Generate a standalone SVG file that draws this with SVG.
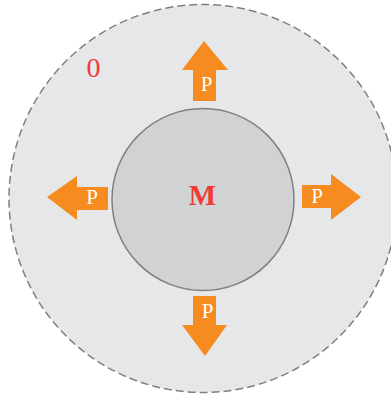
<svg xmlns="http://www.w3.org/2000/svg" width="391" height="395" viewBox="0 0 391 395">
<style>
.arrow{fill:#f68b1f;}
.p{font-family:"Liberation Serif",serif;font-size:21px;fill:#ffffff;text-anchor:middle;}
.red{font-family:"Liberation Serif",serif;fill:#ef3a35;text-anchor:middle;}
</style>
<rect width="391" height="395" fill="#ffffff"/>
<g id="outer">
<circle cx="203" cy="198.5" r="194" fill="#e6e7e8" stroke="#808080" stroke-width="1.5" stroke-dasharray="8,4"/>
<text class="red" x="93.5" y="77" font-size="28">0</text>
</g>
<g id="inner">
<circle cx="203" cy="199.5" r="91" fill="#d1d2d4" stroke="#808080" stroke-width="1.5"/>
<text class="red" x="202.5" y="204.5" font-size="29" font-weight="bold">M</text>
</g>
<g id="connectors">
<g id="arrow-up">
<polygon class="arrow" points="204,41 228,70 216,70 216,101 193,101 193,70 182,70"/>
<text class="p" x="206.5" y="91">P</text>
</g>
<g id="arrow-left">
<polygon class="arrow" points="47,197 77,176 77,187 108,187 108,210 77,210 77,220"/>
<text class="p" x="92" y="204">P</text>
</g>
<g id="arrow-right">
<polygon class="arrow" points="361,197 331,174 331,185 302,185 302,208 331,208 331,220"/>
<text class="p" x="317" y="203">P</text>
</g>
<g id="arrow-down">
<polygon class="arrow" points="205,356 227,325 216,325 216,296 193,296 193,325 182,325"/>
<text class="p" x="207.5" y="318">P</text>
</g>
</g>
</svg>
